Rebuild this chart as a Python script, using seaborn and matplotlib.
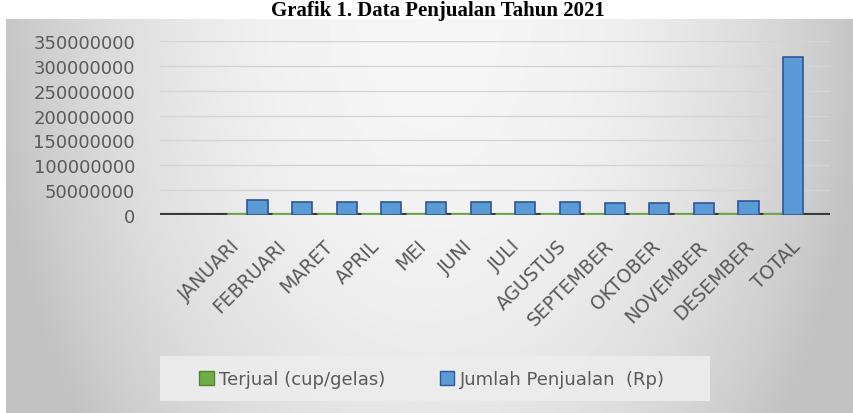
import matplotlib
matplotlib.use('Agg')
import matplotlib.pyplot as plt
import matplotlib.transforms as mtransforms
import numpy as np
import pandas as pd
import seaborn as sns
from matplotlib.patches import Rectangle
from matplotlib.ticker import FuncFormatter

bulan = ['JANUARI', 'FEBRUARI', 'MARET', 'APRIL', 'MEI', 'JUNI', 'JULI',
         'AGUSTUS', 'SEPTEMBER', 'OKTOBER', 'NOVEMBER', 'DESEMBER', 'TOTAL']
terjual = [2100, 1800, 1850, 1850, 1850, 1800, 1800, 1800, 1750, 1750, 1750, 1950, 22000]
penjualan = [30000000, 26000000, 27000000, 27000000, 27000000, 26000000, 26000000,
             26000000, 25000000, 25000000, 25000000, 28000000, 318000000]
seri = ['Terjual (cup/gelas)', 'Jumlah Penjualan  (Rp)']
warna = {seri[0]: '#70AD47', seri[1]: '#5B9BD5'}
tepi = {seri[0]: '#70AD47', seri[1]: '#2F5597'}
y_ticks = [0, 50000000, 100000000, 150000000, 200000000, 250000000, 300000000, 350000000]

df = pd.DataFrame({
    'bulan': bulan * 2,
    'seri': [seri[0]] * len(bulan) + [seri[1]] * len(bulan),
    'nilai': terjual + penjualan,
})

sns.set_theme(style='white')
plt.rcParams['font.family'] = ['DejaVu Sans']

W, H = 854, 414
fig = plt.figure(figsize=(W / 100, H / 100), dpi=100)
fig.patch.set_facecolor('white')

# grey gradient panel behind the chart
bg = fig.add_axes([6 / W, 0, 1 - 6 / W, (H - 20) / H], zorder=-1)
xx, yy = np.meshgrid(np.linspace(-1, 1, 400), np.linspace(0, 1, 200))
r = np.sqrt(xx ** 2 + (yy * 0.6) ** 2)
shade = np.clip(0.965 - 0.19 * r ** 2.2, 0.76, 0.965)
bg.imshow(shade, cmap='gray', vmin=0, vmax=1, aspect='auto', extent=[0, 1, 0, 1])
bg.axis('off')

ax = fig.add_axes([160 / W, (H - 216) / H, (830 - 160) / W, (216 - 42) / H])
ax.patch.set_alpha(0)

sns.barplot(data=df, x='bulan', y='nilai', hue='seri', palette=warna, ax=ax,
            width=0.9, dodge=True, saturation=1, legend=True)
for cont, s in zip(ax.containers, seri):
    for bar in cont:
        bar.set_edgecolor(tepi[s])
        bar.set_linewidth(3.5 if s == seri[0] else 1.2)
        bar.set_zorder(3)

ax.set_xlim(-1.96, 13.05)
ax.set_ylim(0, 350000000)
ax.set_yticks(y_ticks)
ax.yaxis.set_major_formatter(FuncFormatter(lambda v, p: f'{v:.0f}'))
ax.grid(axis='y', color='#D4D4D4', linewidth=1)
ax.set_axisbelow(True)
for sp in ax.spines.values():
    sp.set_visible(False)
ax.axhline(0, color='#3A3A3A', linewidth=3, zorder=2)
ax.set_xlabel('')
ax.set_ylabel('')
ax.tick_params(axis='y', labelsize=13, labelcolor='#595959', pad=18, length=0)
ax.tick_params(axis='x', labelsize=13.5, labelcolor='#595959', pad=20, length=0)
plt.setp(ax.get_xticklabels(), rotation=45, ha='right', va='center', rotation_mode='anchor')
for i, lab in enumerate(ax.get_xticklabels()):
    shift = mtransforms.ScaledTranslation((-11 + 2.1 * i) / 100, 0, fig.dpi_scale_trans)
    lab.set_transform(lab.get_transform() + shift)

handles, labels = ax.get_legend_handles_labels()
ax.get_legend().remove()
fig.patches.append(Rectangle((160 / W, 1 - 402 / H), 550 / W, 45 / H, transform=fig.transFigure,
                             facecolor='#EDEDED', edgecolor='none', alpha=0.9, zorder=0))
leg = fig.legend(handles, labels, loc='center', bbox_to_anchor=(432 / W, 1 - 380 / H),
                 ncol=2, frameon=False, fontsize=13, handlelength=0.8,
                 handleheight=0.8, handletextpad=0.3, columnspacing=3.0,
                 labelcolor='#595959')
for h, s in zip(leg.legend_handles, seri):
    h.set_edgecolor('#2F5597' if s == seri[1] else '#548235')
    h.set_linewidth(1)

fig.text(438 / W, 1 - 16 / H, 'Grafik 1. Data Penjualan Tahun 2021', ha='center',
         va='baseline', fontsize=15, fontweight='bold', family=['Liberation Serif', 'DejaVu Serif'],
         color='black')

fig.savefig('out.png', dpi=100)
